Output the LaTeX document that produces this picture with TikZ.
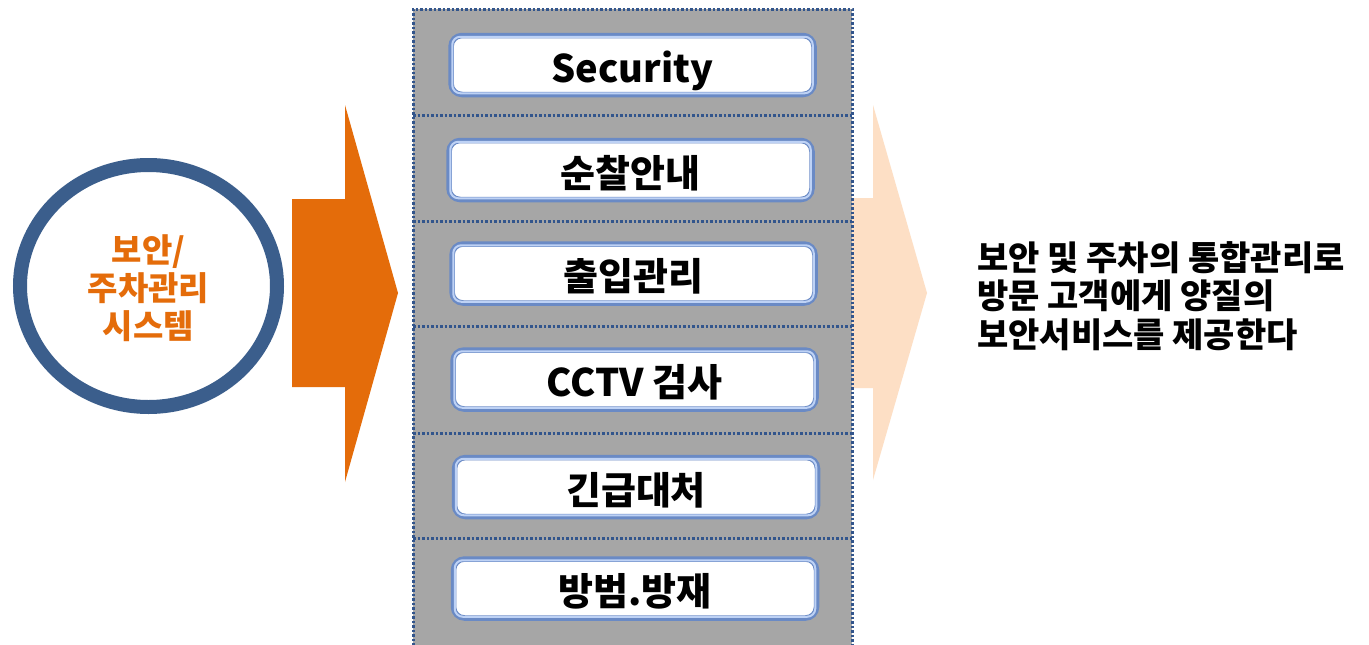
\documentclass[tikz,border=0pt]{standalone}
\usepackage{fontspec}
\setmainfont{Noto Sans CJK KR}
\usetikzlibrary{shapes.geometric}
\definecolor{peach}{RGB}{253,223,197}
\definecolor{orangeA}{RGB}{228,108,10}
\definecolor{circblue}{RGB}{59,94,140}
\definecolor{panelgray}{RGB}{166,166,166}
\definecolor{dotblue}{RGB}{50,85,140}
\definecolor{boxblue}{RGB}{106,138,197}
\definecolor{boxlight}{RGB}{190,210,245}
\tikzset{
  dotline/.style={draw=dotblue, line width=3pt, dash pattern=on 2.5pt off 2pt},
  itembox/.style={draw=boxblue, line width=5.5pt, fill=white, rounded corners=11pt,
    minimum width=363pt, minimum height=59pt, inner sep=0pt,
    text height=40pt, text depth=6pt,
    font=\fontsize{38}{44}\selectfont\bfseries},
  boxinner/.style={draw=boxlight, line width=2pt, rounded corners=8pt},
  sysnode/.style={ellipse, draw=circblue, line width=14pt, fill=white,
    minimum width=257pt, minimum height=242pt, inner sep=0pt},
}
\begin{document}
\begin{tikzpicture}[x=1pt,y=-1pt]
\useasboundingbox[fill=white] (0,0) rectangle (1369,645);
% arrows
\fill[peach] (840,198) -- (873,198) -- (873,105) -- (927,293) -- (873,480) -- (873,388) -- (840,388) -- cycle;
\fill[orangeA] (292,199) -- (345,199) -- (345,105) -- (398,293) -- (345,482) -- (345,387) -- (292,387) -- cycle;
% panel
\fill[panelgray] (413,9) rectangle (852,650);
\draw[dotline] (413,650) -- (413,9) -- (852,9) -- (852,650);
\foreach \y in {115,221,326,433,538} \draw[dotline] (413,\y) -- (852,\y);
% boxes
\node[itembox] (b1) at (632.5,65) {Security};
\node[itembox] (b2) at (630.5,170) {순찰안내};
\node[itembox] (b3) at (633.5,273.5) {출입관리};
\node[itembox] (b4) at (634.5,379.5) {CCTV 검사};
\node[itembox] (b5) at (636,487) {긴급대처};
\node[itembox] (b6) at (635,588.5) {방범.방재};
\foreach \n in {b1,b2,b3,b4,b5,b6}
  \draw[boxinner] ([xshift=4pt,yshift=-4pt]\n.north west) rectangle ([xshift=-4pt,yshift=4pt]\n.south east);
% circle
\node[sysnode] (sys) at (148.5,286) {};
\node[align=center, text=orangeA, inner sep=0pt, font=\fontsize{33}{38}\selectfont\bfseries] (systext) at ([yshift=-2pt]sys.center) {보안/\\주차관리\\시스템};
% right text
\node[anchor=west, align=left, inner sep=0pt, font=\fontsize{34}{38.5}\selectfont\bfseries] (goal) at (977,296) {보안 및 주차의 통합관리로\\방문 고객에게 양질의\\보안서비스를 제공한다};
\end{tikzpicture}
\end{document}
